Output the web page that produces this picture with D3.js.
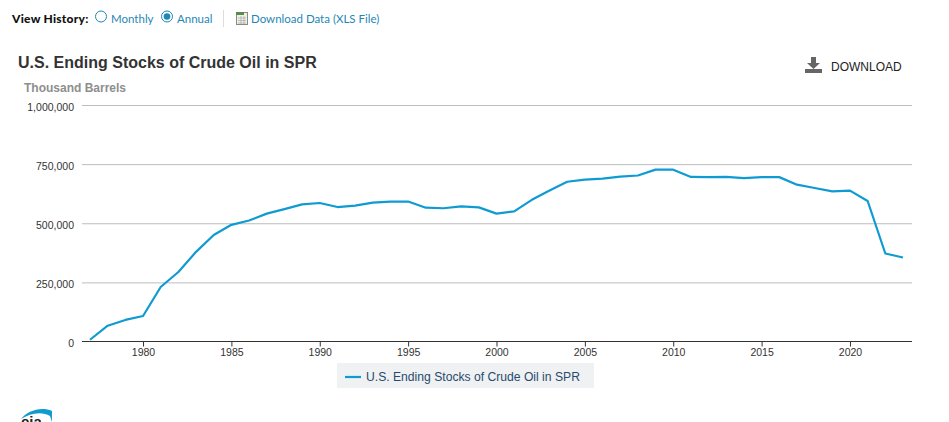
<!DOCTYPE html>
<html>
<head>
<meta charset="utf-8">
<script src="https://cdn.jsdelivr.net/npm/d3@7"></script>
<style>
    html, body { margin: 0; padding: 0; background: #fff; overflow: hidden; }
    text { font-family: "Liberation Sans", Arial, sans-serif; }
    .hist { font-family: Lato, sans-serif; font-size: 11.5px; fill: #1f87b5; }
    .tick text { font-size: 10.5px; fill: #333; }
</style>
</head>
<body>
<script>
const seriesName = "U.S. Ending Stocks of Crude Oil in SPR";
const unitLabel = "Thousand Barrels";
const years = d3.range(1977, 2024);
// thousand barrels
const stocks = [7456, 66860, 91191, 107800, 230340, 293832, 379087, 450514, 493324, 511565,
    540647, 559517, 579859, 585692, 568508, 574724, 587080, 591670, 591640, 565824,
    563433, 571406, 567241, 540678, 550241, 599091, 638388, 675600, 684544, 688611,
    696941, 701823, 726616, 726549, 696000, 695000, 696000, 691000, 695000, 695000,
    663000, 649000, 635000, 638000, 594000, 372000, 355000];
const yTicks = [0, 250000, 500000, 750000, 1000000];
const xTicks = d3.range(1980, 2021, 5);

const svg = d3.select("body").append("svg")
    .attr("width", 949)
    .attr("height", 422);

// scales: the axis line runs a bit wider than the data on both sides
const x = d3.scaleLinear().domain([1977, 2023]).range([90, 903]);
const y = d3.scaleLinear().domain([0, 1000000]).range([341.5, 105]);
const left = 82, right = 912;

// page header
svg.append("text").attr("x", 12).attr("y", 23)
    .style("font-family", "Lato, sans-serif").style("font-size", "12px")
    .style("font-weight", 900).style("letter-spacing", "0.25px").style("fill", "#111").text("View History:");
svg.append("circle").attr("cx", 101).attr("cy", 16.5).attr("r", 5.5)
    .attr("fill", "#fff").attr("stroke", "#1f87b5");
svg.append("text").attr("class", "hist").attr("x", 111).attr("y", 23).text("Monthly");
svg.append("circle").attr("cx", 167).attr("cy", 16.5).attr("r", 5.5)
    .attr("fill", "#fff").attr("stroke", "#1f87b5");
svg.append("circle").attr("cx", 167).attr("cy", 16.5).attr("r", 3.3).attr("fill", "#1f87b5");
svg.append("text").attr("class", "hist").attr("x", 177).attr("y", 23).text("Annual");
svg.append("line").attr("x1", 223.5).attr("x2", 223.5).attr("y1", 10).attr("y2", 27)
    .attr("stroke", "#ddd");

// little spreadsheet icon
const xls = svg.append("g").attr("transform", "translate(236,12)");
xls.append("rect").attr("x", 0.5).attr("y", 0.5).attr("width", 11).attr("height", 12)
    .attr("fill", "#eef0e8").attr("stroke", "#8a8a80");
xls.append("rect").attr("x", 0).attr("y", 0).attr("width", 8).attr("height", 3).attr("fill", "#5d8a4a");
xls.append("path").attr("d", "M2 6H10M2 8.5H10M2 11H10M5 4V12M8 4V12")
    .attr("stroke", "#aaa").attr("stroke-width", 0.7);
svg.append("text").attr("class", "hist").attr("x", 251).attr("y", 23).text("Download Data (XLS File)");

// titles
svg.append("text").attr("x", 18).attr("y", 68)
    .style("font-size", "16px").style("font-weight", "bold").style("fill", "#333")
    .text(seriesName);
svg.append("text").attr("x", 24).attr("y", 92)
    .style("font-size", "12px").style("font-weight", "bold").style("fill", "#8e8e8e")
    .text(unitLabel);

// download button
const dl = svg.append("g").attr("transform", "translate(805,57)");
dl.append("path").attr("d", "M6 0H11V6H15L8.5 12L2 6H6Z").attr("fill", "#666");
dl.append("rect").attr("x", 0).attr("y", 12).attr("width", 17).attr("height", 4).attr("fill", "#666");
svg.append("text").attr("x", 831).attr("y", 71)
    .style("font-size", "12px").style("fill", "#222").text("DOWNLOAD");

// y axis with gridlines
const yAxis = svg.append("g").attr("transform", "translate(" + left + ",0)")
    .call(d3.axisLeft(y).tickValues(yTicks).tickSize(0).tickPadding(8).tickFormat(d3.format(",")));
yAxis.select(".domain").remove();
yAxis.selectAll(".tick line")
    .attr("x2", right - left)
    .attr("stroke", d => d === 0 ? "none" : "#bdbdbd");
yAxis.selectAll(".tick text").attr("dy", "0.5em");

// x axis
const xAxis = svg.append("g").attr("transform", "translate(0,341.5)")
    .call(d3.axisBottom(x).tickValues(xTicks).tickSize(5).tickPadding(2).tickFormat(d3.format("d")));
xAxis.select(".domain").attr("d", "M" + left + ",0H" + right).attr("stroke", "#333");
xAxis.selectAll(".tick line").attr("y2", 5).attr("stroke", "#333");

// series
const line = d3.line().x((d, i) => x(years[i])).y(d => y(d));
svg.append("path").datum(stocks)
    .attr("d", line)
    .attr("fill", "none")
    .attr("stroke", "#0f9bd2")
    .attr("stroke-width", 2.2)
    .attr("stroke-linejoin", "round");

// legend
svg.append("rect").attr("x", 337).attr("y", 363).attr("width", 257).attr("height", 25)
    .attr("fill", "#f0f1f2");
svg.append("line").attr("x1", 345).attr("x2", 361).attr("y1", 377).attr("y2", 377)
    .attr("stroke", "#0f9bd2").attr("stroke-width", 2.2);
svg.append("text").attr("x", 366).attr("y", 381)
    .style("font-size", "12.15px").style("fill", "#274b6d").text(seriesName);

// top of the eia logo, cut off by the window edge
svg.append("path").attr("d", "M21 419C27 411 41 406 52 411L52 422L50 416C42 411 30 413 21 419Z")
    .attr("fill", "#0f9bd2");
svg.append("text").attr("x", 21).attr("y", 427)
    .style("font-size", "15px").style("font-weight", "bold").style("fill", "#222").text("eia");
</script>
</body>
</html>
